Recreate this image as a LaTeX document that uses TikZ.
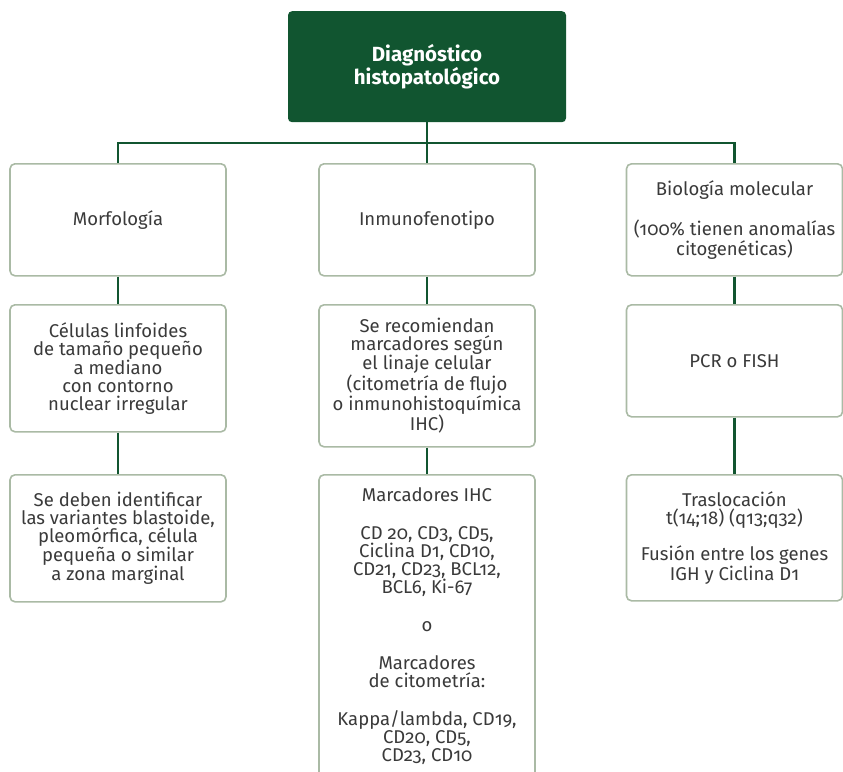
\documentclass[tikz,border=0pt]{standalone}
\usepackage{fontspec}
\setmainfont{Fira Sans}[Numbers=OldStyle]
\usetikzlibrary{positioning}
\definecolor{verde}{RGB}{17,85,48}
\definecolor{borde}{RGB}{170,186,165}
\definecolor{texto}{RGB}{58,58,58}
\tikzset{
  caja/.style={draw=borde,line width=1.6pt,rounded corners=5pt,fill=white,text=texto,
    align=center,minimum width=216pt,inner sep=0pt,anchor=north,
    font=\fontsize{18.5}{18}\selectfont},
  titulo/.style={fill=verde,rounded corners=4pt,text=white,align=center,
    minimum width=278pt,minimum height=111pt,anchor=north,inner sep=0pt,
    font=\fontsize{20.5}{21.5}\selectfont\bfseries},
  linea/.style={draw=verde,line width=2.6pt}
}
\begin{document}
\begin{tikzpicture}[x=1pt,y=-1pt]
\useasboundingbox (0,0) rectangle (843,771);
\def\colA{118}
\def\colB{427}
\def\colC{734.5}
\node[titulo] (diag) at (\colB,11) {Diagnóstico\\histopatológico};
\coordinate (bus) at (\colB,143);
% primera fila
\node[caja,minimum height=112pt] (morf) at (\colA,163) {Morfología};
\node[caja,minimum height=112pt] (inmuno) at (\colB,163) {Inmunofenotipo};
\node[caja,minimum height=112pt] (bio) at (\colC,163) {Biología molecular\\[20pt](100\% tienen anomalías\\citogenéticas)};
% segunda fila
\node[caja,minimum height=127pt] (celulas) at (\colA,304) {Células linfoides\\de tamaño pequeño\\a mediano\\con contorno\\nuclear irregular};
\node[caja,minimum height=142pt] (recom) at (\colB,304) {Se recomiendan\\marcadores según\\el linaje celular\\(citometría de flujo\\o inmunohistoquímica\\IHC)};
\node[caja,minimum height=112pt] (pcr) at (\colC,304) {PCR o FISH};
% tercera fila
\node[caja,minimum height=127pt] (variantes) at (\colA,474) {Se deben identificar\\las variantes blastoide,\\pleomórfica, célula\\pequeña o similar\\a zona marginal};
\node[caja,minimum height=302pt] (ihc) at (\colB,474) {Marcadores IHC\\[20pt]CD 20, CD3, CD5,\\Ciclina D1, CD10,\\CD21, CD23, BCL12,\\BCL6, Ki-67\\[20pt]o\\[20pt]Marcadores\\de citometría:\\[20pt]Kappa/lambda, CD19,\\CD20, CD5,\\CD23, CD10};
\node[caja,minimum height=126pt] (trasl) at (\colC,474) {Traslocación\\t(14;18) (q13;q32)\\[17pt]Fusión entre los genes\\IGH y Ciclina D1};
% conectores
\draw[linea] (diag) -- (inmuno);
\draw[linea] (morf.north) |- (bus) -| (bio.north);
\foreach \a/\b in {morf/celulas,celulas/variantes,inmuno/recom,recom/ihc,bio/pcr,pcr/trasl}
  \draw[linea] (\a) -- (\b);
\end{tikzpicture}
\end{document}
